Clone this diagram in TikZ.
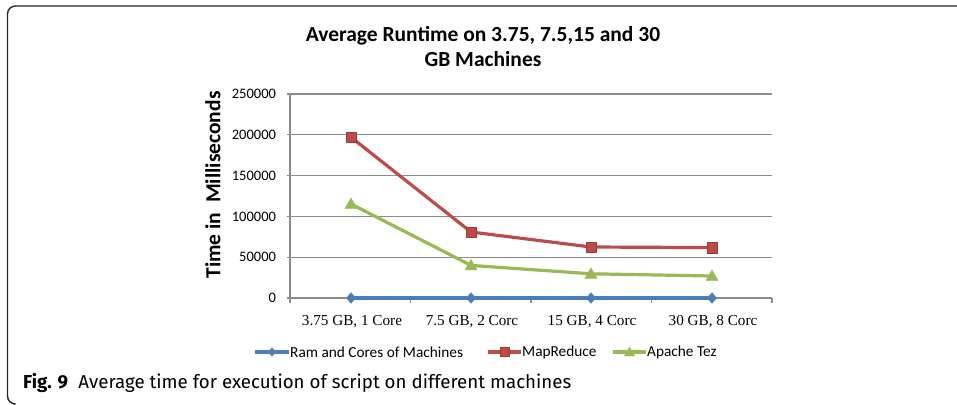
\documentclass[tikz,border=0pt]{standalone}
\usepackage{fontspec}
\setmainfont{Carlito}
\newfontfamily\serifx{Liberation Serif}
\newfontfamily\capf{Fira Sans}
\usetikzlibrary{shapes.geometric}
\definecolor{cblue}{HTML}{4A7EBB}
\definecolor{cred}{HTML}{BE4B48}
\definecolor{cgreen}{HTML}{98B954}
\definecolor{cgrid}{HTML}{8C8C8C}
\begin{document}
\begin{tikzpicture}[x=1pt,y=-1pt,
  grid/.style={draw=cgrid,line width=1.2pt},
  series/.style={line width=3.2pt},
  dmark/.style={diamond,fill=cblue,draw=cblue,inner sep=0pt,minimum width=9pt,minimum height=11pt},
  smark/.style={rectangle,fill=cred,draw=cred!80!black,line width=0.4pt,inner sep=0pt,minimum size=10.5pt},
  tmark/.style={regular polygon,regular polygon sides=3,fill=cgreen,draw=cgreen,inner sep=0pt,minimum size=14pt,yshift=-1pt},
  ylab/.style={anchor=east,font=\fontsize{14.5}{14.5}\selectfont},
  xlab/.style={anchor=base,font=\serifx\fontsize{15.2}{15.2}\selectfont},
  legtxt/.style={anchor=west,font=\fontsize{15.3}{15.3}\selectfont}]
\useasboundingbox (0,0) rectangle (957,404);
% frame
\draw[line width=1.4pt,black!85,rounded corners=8pt] (957,6) -- (7.5,6) -- (7.5,404) -- (13,404);
% title
\node[font=\bfseries\fontsize{21.5}{25}\selectfont,align=center] (title) at (483,47) {Average Runtime on 3.75, 7.5,15 and 30\\GB Machines};
% grid
\foreach \k/\v in {0/0,1/50000,2/100000,3/150000,4/200000,5/250000}{
  \draw[grid] (286.5,{298-40.8*\k}) -- (772,{298-40.8*\k});
  \node[ylab] (yl\k) at (279.5,{298-40.8*\k}) {\v};
}
\draw[grid] (290,94) -- (290,298);
\foreach \xx in {290,410.5,531,651.5,772}{\draw[grid] (\xx,298) -- (\xx,303);}
% y axis title
\node[rotate=90,font=\bfseries\fontsize{21.5}{22}\selectfont] (ytitle) at (213,185) {Time in\ \ Milliseconds};
% x labels
\node[xlab] (x1) at (352,325) {3.75 GB, 1 Core};
\node[xlab] (x2) at (472,325) {7.5 GB, 2 Corc};
\node[xlab] (x3) at (592,325) {15 GB, 4 Corc};
\node[xlab] (x4) at (713,325) {30 GB, 8 Corc};
% data coordinates
\coordinate (b1) at (351,298); \coordinate (b2) at (471,298); \coordinate (b3) at (591,298); \coordinate (b4) at (712,298);
\coordinate (m1) at (351,137.2); \coordinate (m2) at (471,232); \coordinate (m3) at (591,247); \coordinate (m4) at (712,247.6);
\coordinate (t1) at (351,204); \coordinate (t2) at (471,265.4); \coordinate (t3) at (591,273.8); \coordinate (t4) at (712,276);
\draw[series,cred] (m1) -- (m2) -- (m3) -- (m4);
\draw[series,cgreen] (t1) -- (t2) -- (t3) -- (t4);
\draw[series,cblue] (b1) -- (b2) -- (b3) -- (b4);
\foreach \i in {1,...,4}{
  \node[smark] (sm\i) at (m\i) {};
  \node[tmark] (tm\i) at (t\i) {};
  \node[dmark] (dm\i) at (b\i) {};
}
% legend
\coordinate (lb1) at (255,352); \coordinate (lb2) at (289,352);
\draw[series,cblue] (lb1) -- (lb2);
\node[dmark,minimum width=7pt,minimum height=9pt] (lbm) at (272,352) {};
\node[legtxt,inner sep=1pt] (lbt) at (289,352) {Ram and Cores of Machines};
\coordinate (lr1) at (488,352); \coordinate (lr2) at (521,352);
\draw[series,cred] (lr1) -- (lr2);
\node[smark,minimum size=9pt] (lrm) at (504.5,352) {};
\node[legtxt,inner sep=1pt] (lrt) at (521,352) {MapReduce};
\coordinate (lg1) at (613,352); \coordinate (lg2) at (646,352);
\draw[series,cgreen] (lg1) -- (lg2);
\node[tmark,minimum size=12pt] (lgm) at (629.5,352) {};
\node[legtxt,inner sep=1pt] (lgt) at (646,352) {Apache Tez};
% caption
\node[anchor=base west,font=\capf\fontsize{18.7}{18.7}\selectfont,inner sep=0pt] (cap) at (23,388) {\textbf{Fig. 9}\hspace{0.55em}Average time for execution of script on different machines};
\end{tikzpicture}
\end{document}
